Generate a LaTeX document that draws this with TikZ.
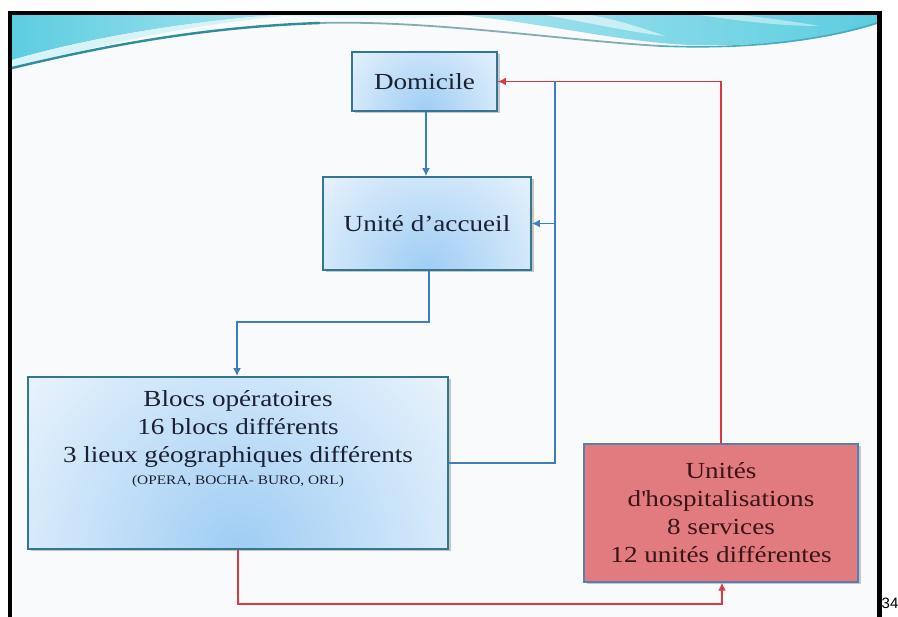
\documentclass[tikz,border=0pt]{standalone}
\usepackage{fontspec}
\setmainfont{Liberation Serif}[FakeStretch=1.18]
\newfontfamily\numfont{Liberation Sans}
\usetikzlibrary{arrows.meta,shadows}
\definecolor{slidebg}{HTML}{F9FAFB}
\definecolor{boxborder}{HTML}{35758E}
\definecolor{boxinner}{HTML}{9FCDF4}
\definecolor{boxouter}{HTML}{F0F7FD}
\definecolor{redfill}{HTML}{E27B7F}
\definecolor{redborder}{HTML}{587FAE}
\definecolor{bluearrow}{HTML}{3E7EBE}
\definecolor{redarrow}{HTML}{D9393F}
\definecolor{txtblue}{HTML}{1C2030}
\definecolor{txtred}{HTML}{3A1416}
\definecolor{cyanA}{HTML}{5CCDE0}
\definecolor{cyanB}{HTML}{A6E4EE}
\definecolor{tealline}{HTML}{2E8E9C}
\begin{document}
\begin{tikzpicture}[x=1pt,y=-1pt,
  boxshadow/.style={drop shadow={shadow xshift=2.5pt,shadow yshift=-2.5pt,opacity=0.35,fill=black!60}},
  bluebox/.style={draw=boxborder,line width=1.8pt,fill=boxouter,
    path picture={\shade[inner color=boxinner,outer color=boxouter] (path picture bounding box.south) circle (#1);},
    boxshadow,text=txtblue,align=center,inner sep=0pt,
    font=\fontsize{23}{28}\selectfont},
  bluebox/.default=150pt,
  redbox/.style={draw=redborder,line width=1.5pt,fill=redfill,boxshadow,
    text=txtred,align=center,inner sep=0pt,font=\fontsize{23}{28}\selectfont},
  bluetext/.style={text=txtblue,align=center,inner sep=0pt,font=\fontsize{23}{28}\selectfont},
  bluelink/.style={draw=bluearrow,line width=1.8pt},
  redlink/.style={draw=redarrow,line width=1.6pt},
  tip/.style={-{Latex[length=8pt,width=8pt]}}
]
\useasboundingbox (0,0) rectangle (898,617);
\fill[white] (0,0) rectangle (898,617);
\fill[slidebg] (12,15) rectangle (877,617);

% banner
\begin{scope}
\clip (12,15) rectangle (877,120);
\shade[left color=cyanA,right color=cyanB] (12,15) -- (12,60) .. controls (60,46) and (150,25) .. (275,15) -- cycle;
\fill[cyanB!45] (12,60) .. controls (60,46) and (150,25) .. (275,15) -- (295,15) .. controls (180,25) and (80,49) .. (12,70) -- cycle;
\fill[cyanB!35] (270,15) .. controls (350,20) and (420,19) .. (480,15) -- cycle;
\shade[left color=cyanB,right color=cyanA] (460,15) .. controls (550,24) and (620,42) .. (690,45) .. controls (780,47) and (840,36) .. (877,24) -- (877,15) -- cycle;
\fill[white,opacity=0.55] (545,15) .. controls (590,23) and (630,32) .. (665,36) .. controls (640,27) and (610,18) .. (590,15) -- cycle;
\fill[white,opacity=0.45] (700,15) .. controls (740,21) and (780,26) .. (820,26) .. controls (790,21) and (760,17) .. (740,15) -- cycle;
\draw[tealline,line width=2.4pt] (12,68) .. controls (100,47) and (200,27) .. (320,23);
\draw[tealline!60!gray!70,line width=1.8pt] (320,23) .. controls (430,20) and (560,40) .. (660,46);
\draw[tealline!50!cyanA,line width=1.6pt] (660,46) .. controls (760,50) and (830,38) .. (877,23);
\end{scope}

% frame
\fill[black] (8,11) rectangle (882,15);
\fill[black] (8,11) rectangle (12,617);
\fill[black] (877,11) rectangle (882,617);
\node[font=\numfont\fontsize{15}{15}\selectfont,anchor=base west,inner sep=0pt] (pagenum) at (881.5,609) {34};

% boxes
\node[bluebox=110pt,minimum width=145pt,minimum height=59pt] (dom) at (424.5,81.5) {Domicile};
\node[bluebox=160pt,minimum width=208pt,minimum height=93pt] (acc) at (427,223.5) {Unité d’accueil};
\node[bluebox=300pt,minimum width=420pt,minimum height=172pt] (blocs) at (238,463) {};
\node[bluetext,anchor=north] (blocstxt) at ([yshift=-14pt]blocs.north)
  {Blocs opératoires\\16 blocs différents\\3 lieux géographiques différents\\[-6pt]{\fontsize{13}{15}\selectfont (OPERA, BOCHA- BURO, ORL)}};
\node[redbox,minimum width=274pt,minimum height=138pt] (unit) at (721,513)
  {Unités\\d\textquotesingle hospitalisations\\8 services\\12 unités différentes};

% connectors
\coordinate (k1) at (237,322);
\coordinate (k2) at (555,463);
\coordinate (k4) at (0,604);
\draw[bluelink,tip] ([xshift=1.5pt]dom.south) -- ([xshift=1.5pt]dom.south |- acc.north);
\draw[bluelink,tip] ([xshift=2pt]acc.south) |- (k1) -- (k1 |- blocs.north);
\draw[bluelink] (blocs.east) -- (k2) -- (k2 |- dom.east) -- (dom.east);
\draw[bluelink,tip] (k2 |- acc.east) -- (acc.east);
\draw[redlink,tip] (unit.north) |- (dom.east);
\draw[redlink,tip] (blocs.south) -- (blocs.south |- k4) -| ([xshift=1pt]unit.south);
\end{tikzpicture}
\end{document}
